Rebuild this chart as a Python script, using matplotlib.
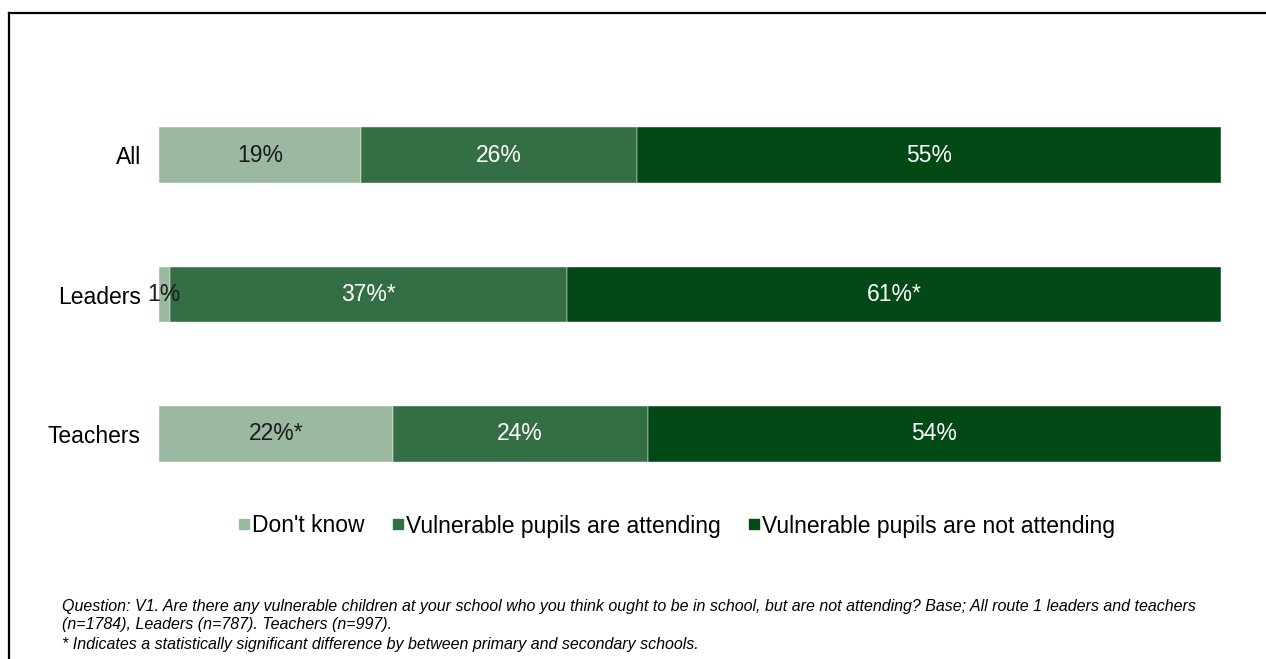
import matplotlib.pyplot as plt
import numpy as np
from matplotlib.lines import Line2D

plt.rcParams['font.family'] = ['Liberation Sans', 'DejaVu Sans']

# data
groups = ['All', 'Leaders', 'Teachers']
series = ["Don't know", 'Vulnerable pupils are attending', 'Vulnerable pupils are not attending']
dont_know = [19, 1, 22]
attending = [26, 37, 24]
not_attending = [55, 61, 54]
labels_dk = ['19%', '1%', '22%*']
labels_att = ['26%', '37%*', '24%']
labels_not = ['55%', '61%*', '54%']
colors = ['#9bb8a0', '#336e44', '#034915']
text_colors = ['#1a1a1a', 'white', 'white']

vals = np.array([dont_know, attending, not_attending], dtype=float)
shares = vals / vals.sum(axis=0)
all_labels = [labels_dk, labels_att, labels_not]

fig = plt.figure(figsize=(12.66, 6.59), dpi=100)
ax = fig.add_axes([0.1256, 0.2356, 0.8389, 0.635])

y = np.arange(len(groups))
left = np.zeros(len(groups))
for i in range(len(series)):
    ax.barh(y, shares[i], left=left, height=0.395, color=colors[i],
            edgecolor='white', linewidth=0.3)
    for j in range(len(groups)):
        ax.text(left[j] + shares[i][j] / 2, y[j], all_labels[i][j],
                ha='center', va='center', fontsize=16.5, color=text_colors[i])
    left += shares[i]

ax.set_xlim(0, 1)
ax.set_ylim(2.5, -0.5)
ax.set_yticks(y)
ax.set_yticklabels(groups, fontsize=16.5)
ax.tick_params(axis='y', length=0, pad=13)
ax.set_xticks([])
for s in ax.spines.values():
    s.set_visible(False)

handles = [Line2D([0], [0], marker='s', color='w', markerfacecolor=c,
                  markeredgecolor=c, markersize=7) for c in colors]
fig.legend(handles, series, loc='center', bbox_to_anchor=(677 / 1266, 1 - 526 / 659),
           ncol=3, frameon=False, fontsize=16.5, handlelength=0.45,
           handletextpad=0.15, columnspacing=1.2)

# footnote
note_size = 11.5
fig.text(62 / 1266, 1 - 606 / 659,
         'Question: V1. Are there any vulnerable children at your school who you think ought to be in school, '
         'but are not attending? Base; All route 1 leaders and teachers',
         fontsize=note_size, style='italic', va='center', ha='left')
fig.text(62 / 1266, 1 - 625 / 659, '(n=1784), Leaders (n=787). Teachers (n=997).',
         fontsize=note_size, style='italic', va='center', ha='left')
fig.text(62 / 1266, 1 - 645 / 659,
         '* Indicates a statistically significant difference by between primary and secondary schools.',
         fontsize=note_size, style='italic', va='center', ha='left')

# outer frame (left and top edges visible)
fx = 8.5 / 1266
fy = 1 - 12.5 / 659
fig.add_artist(Line2D([fx, fx], [0, fy], color='black', lw=1.6, transform=fig.transFigure))
fig.add_artist(Line2D([fx, 1], [fy, fy], color='black', lw=1.6, transform=fig.transFigure))

fig.savefig('out.png', dpi=100)
